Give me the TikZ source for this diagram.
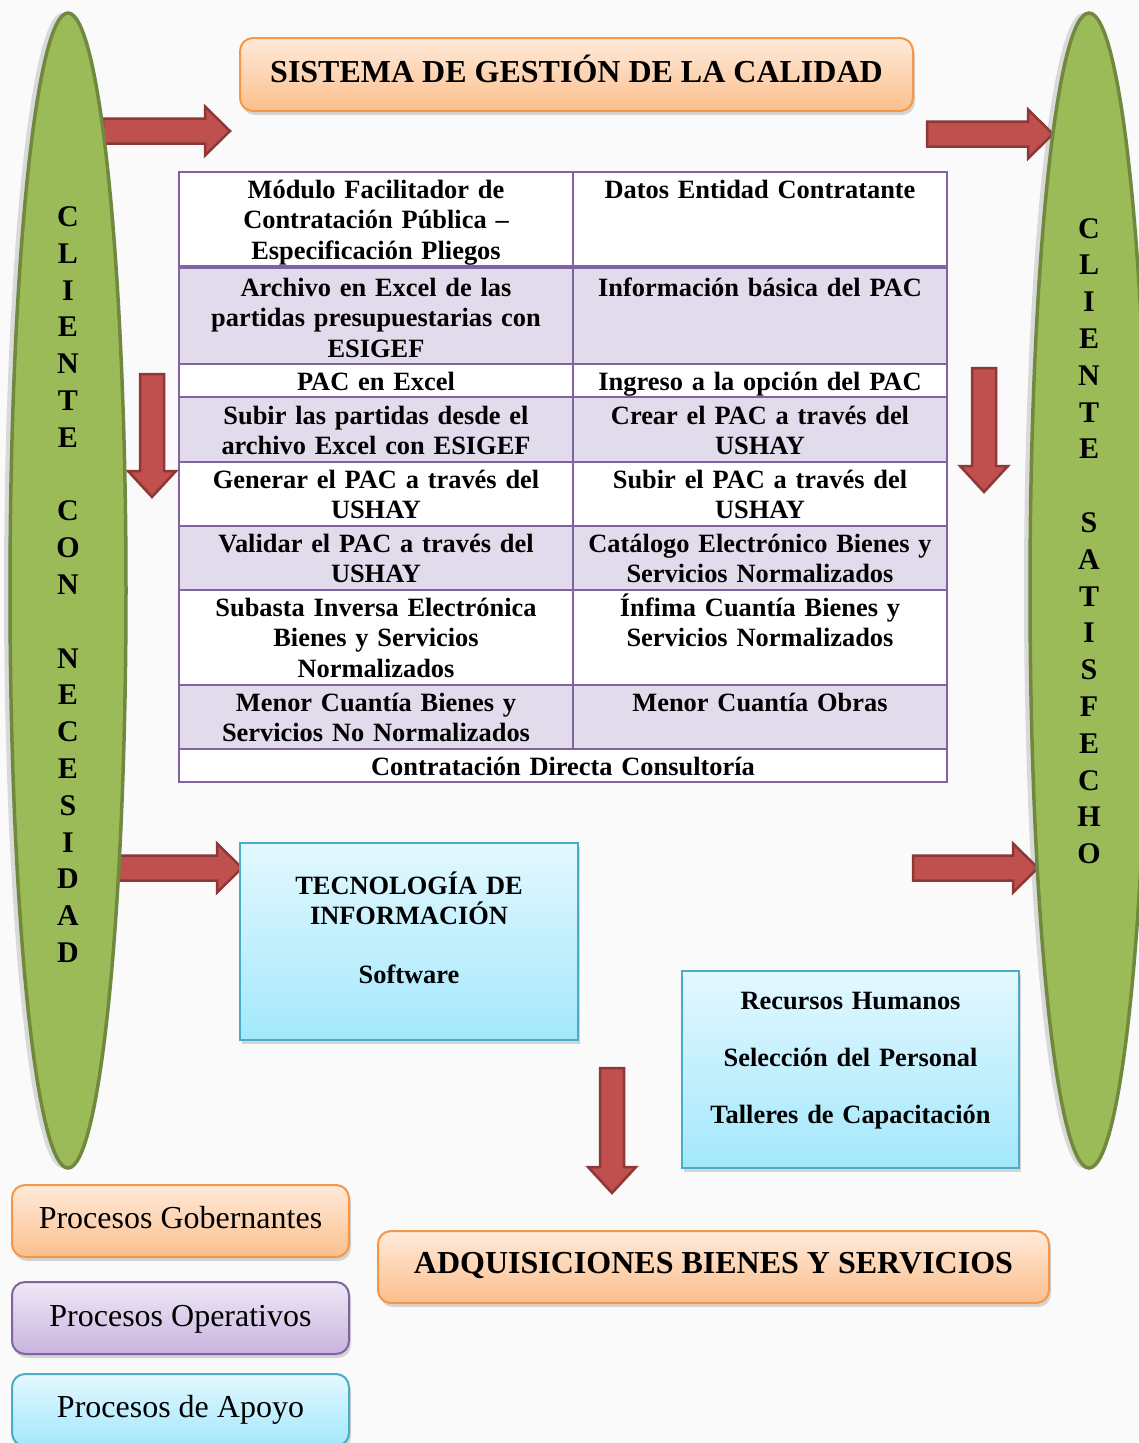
\documentclass[tikz,border=0pt]{standalone}
\usepackage{fontspec}
\setmainfont{Liberation Serif}
\usetikzlibrary{shapes.geometric,shadows}
\definecolor{bgc}{HTML}{FAFAFA}
\definecolor{elfill}{HTML}{9BBB59}
\definecolor{eldraw}{HTML}{71893F}
\definecolor{arfill}{HTML}{C0504D}
\definecolor{ardraw}{HTML}{8C3836}
\definecolor{tbline}{HTML}{8064A2}
\definecolor{tbfill}{HTML}{E1DBEB}
\definecolor{orline}{HTML}{F79646}
\definecolor{ortop}{HTML}{FFEADA}
\definecolor{orbot}{HTML}{FBBF8C}
\definecolor{puline}{HTML}{8064A2}
\definecolor{putop}{HTML}{EFE8F6}
\definecolor{pubot}{HTML}{C8B4DF}
\definecolor{blline}{HTML}{4BACC6}
\definecolor{bltop}{HTML}{E3F8FF}
\definecolor{blbot}{HTML}{A3E8FC}
\newcommand\cellfont{\fontsize{26.4}{30.6}\selectfont\bfseries}
\newcommand\ttlfont{\fontsize{32}{38}\selectfont\bfseries}
\newcommand\procfont{\fontsize{32}{38}\selectfont}
\newcommand\vertfont{\fontsize{30}{36.8}\selectfont\bfseries}
\newcommand\harrow[3]{%
  \draw[blockarrow] (#1,#3-12.5) -- (#2-25,#3-12.5) -- (#2-25,#3-24.5) -- (#2,#3)
    -- (#2-25,#3+24.5) -- (#2-25,#3+12.5) -- (#1,#3+12.5) -- cycle;}
\newcommand\varrow[3]{%
  \draw[blockarrow] (#1-12,#2) -- (#1+12,#2) -- (#1+12,#3-26) -- (#1+24,#3-26) -- (#1,#3)
    -- (#1-24,#3-26) -- (#1-12,#3-26) -- cycle;}
\begin{document}
\begin{tikzpicture}[x=1pt,y=-1pt,
  blockarrow/.style={fill=arfill,draw=ardraw,line width=2.5pt,line join=miter},
  boxshadow/.style={drop shadow={shadow xshift=2pt,shadow yshift=-4pt,opacity=.25,fill=black!60}},
  orbox/.style={draw=orline,line width=2pt,rounded corners=13pt,top color=ortop,bottom color=orbot,boxshadow,inner sep=0},
  pubox/.style={draw=puline,line width=2pt,rounded corners=13pt,top color=putop,bottom color=pubot,boxshadow,inner sep=0},
  blrbox/.style={draw=blline,line width=2pt,rounded corners=13pt,top color=bltop,bottom color=blbot,boxshadow,inner sep=0},
  blbox/.style={draw=blline,line width=2pt,top color=bltop,bottom color=blbot,boxshadow,inner sep=0},
  elly/.style={ellipse,draw=eldraw,fill=elfill,line width=3.5pt,inner sep=0,
    drop shadow={shadow xshift=-6pt,shadow yshift=0pt,opacity=.22,fill=black!60}},
  vtext/.style={anchor=base,text width=40,align=center,inner sep=0,font=\vertfont},
  cellL/.style={anchor=base,text width=385,align=center,inner sep=0,font=\cellfont},
  cellR/.style={anchor=base,text width=365,align=center,inner sep=0,font=\cellfont},
  boxtext/.style={anchor=base,text width=330,align=center,inner sep=0,font=\cellfont}]
\fill[bgc] (0,0) rectangle (1138,1443);
\useasboundingbox (0,0) rectangle (1138,1443);

% arrows
\harrow{103}{230}{131}
\harrow{927}{1053}{134}
\varrow{152}{374}{497}
\varrow{984}{368}{492}
\harrow{117}{242}{868}
\harrow{913}{1038}{868}
\varrow{612}{1068}{1193}

% side ellipses
\node[elly,minimum width=116,minimum height=1155] (necesidad) at (68,590.5) {};
\node[elly,minimum width=118,minimum height=1155] (satisfecho) at (1089,590.5) {};
\node[vtext] (tneces) at (68,226.5) {C\\L\\I\\E\\N\\T\\E\\\mbox{}\\C\\O\\N\\\mbox{}\\N\\E\\C\\E\\S\\I\\D\\A\\D};
\node[vtext] (tsatis) at (1089,238) {C\\L\\I\\E\\N\\T\\E\\\mbox{}\\S\\A\\T\\I\\S\\F\\E\\C\\H\\O};

% title boxes
\node[orbox,minimum width=673,minimum height=73,font=\ttlfont,text height=21pt,text depth=6pt] (sgc) at (576.5,74.5) {SISTEMA DE GESTIÓN DE LA CALIDAD};
\node[orbox,minimum width=671,minimum height=72,font=\ttlfont,text height=21pt,text depth=9pt] (adq) at (713.5,1267) {ADQUISICIONES BIENES Y SERVICIOS};

% table
\fill[white] (179,172) rectangle (947,782);
\fill[tbfill] (179,267) rectangle (947,364);
\fill[tbfill] (179,397) rectangle (947,462);
\fill[tbfill] (179,526) rectangle (947,590);
\fill[tbfill] (179,685) rectangle (947,749);
\foreach \yy in {364,397,462,526,590,685,749}
  \draw[tbline,line width=2pt] (179,\yy) -- (947,\yy);
\draw[tbline,line width=4.5pt] (179,267) -- (947,267);
\draw[tbline,line width=2pt] (573,172) -- (573,749);
\node[draw=tbline,line width=2.2pt,minimum width=768,minimum height=610,inner sep=0] (tabla) at (563,477) {};

\node[cellL] (a1) at (376,198) {Módulo Facilitador de\\Contratación Pública –\\Especificación Pliegos};
\node[cellR] (b1) at (760,198) {Datos Entidad Contratante};
\node[cellL] (a2) at (376,296) {Archivo en Excel de las\\partidas presupuestarias con\\ESIGEF};
\node[cellR] (b2) at (760,296) {Información básica del PAC};
\node[cellL] (a3) at (376,390) {PAC en Excel};
\node[cellR] (b3) at (760,390) {Ingreso a la opción del PAC};
\node[cellL] (a4) at (376,424) {Subir las partidas desde el\\archivo Excel con ESIGEF};
\node[cellR] (b4) at (760,424) {Crear el PAC a través del\\USHAY};
\node[cellL] (a5) at (376,488) {Generar el PAC a través del\\USHAY};
\node[cellR] (b5) at (760,488) {Subir el PAC a través del\\USHAY};
\node[cellL] (a6) at (376,552) {Validar el PAC a través del\\USHAY};
\node[cellR] (b6) at (760,552) {Catálogo Electrónico Bienes y\\Servicios Normalizados};
\node[cellL] (a7) at (376,616) {Subasta Inversa Electrónica\\Bienes y Servicios\\Normalizados};
\node[cellR] (b7) at (760,616) {Ínfima Cuantía Bienes y\\Servicios Normalizados};
\node[cellL] (a8) at (376,711) {Menor Cuantía Bienes y\\Servicios No Normalizados};
\node[cellR] (b8) at (760,711) {Menor Cuantía Obras};
\node[cellL,text width=700] (c9) at (563,775) {Contratación Directa Consultoría};

% blue boxes
\node[blbox,minimum width=338,minimum height=197] (tic) at (409,941.5) {};
\node[boxtext] (tict) at (409,894) {TECNOLOGÍA DE\\INFORMACIÓN};
\node[boxtext] (soft) at (409,983) {Software};
\node[blbox,minimum width=337,minimum height=197] (rrhh) at (850.5,1069.5) {};
\node[boxtext] (rh1) at (850.5,1009) {Recursos Humanos};
\node[boxtext] (rh2) at (850.5,1066) {Selección del Personal};
\node[boxtext] (rh3) at (850.5,1123) {Talleres de Capacitación};

% legend boxes
\node[orbox,minimum width=337,minimum height=72,font=\procfont,text height=22pt,text depth=8pt] (gob) at (180.5,1221) {Procesos Gobernantes};
\node[pubox,minimum width=337,minimum height=72,font=\procfont,text height=22pt,text depth=6pt] (ope) at (180.5,1318) {Procesos Operativos};
\node[blrbox,minimum width=337,minimum height=72,font=\procfont,text height=22pt,text depth=8pt] (apo) at (180.5,1410) {Procesos de Apoyo};
\end{tikzpicture}
\end{document}
